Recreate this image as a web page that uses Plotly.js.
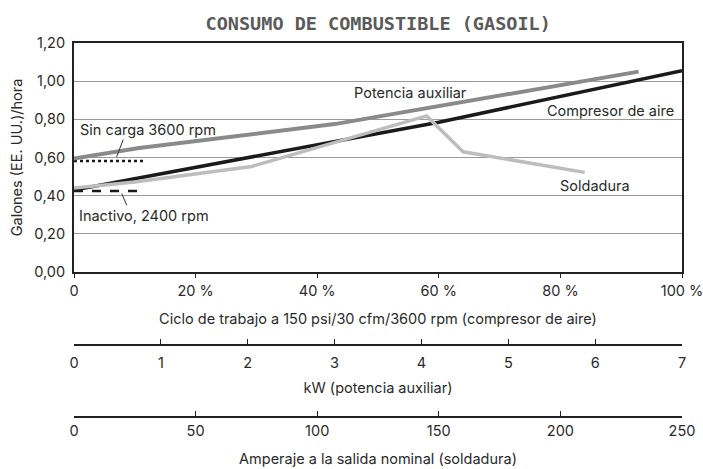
<!DOCTYPE html>
<html>
<head>
<meta charset="utf-8">
<script src="https://cdn.plot.ly/plotly-3.0.1.min.js"></script>
<style>html,body{margin:0;padding:0;background:#fff;}#chart{width:703px;height:469px;}</style>
</head>
<body>
<div id="chart"></div>
<script>
// Compresor de aire: ciclo de trabajo (%) vs galones/hora
const compresorX = [0, 60, 100];
const compresorY = [0.43, 0.785, 1.055];

// Potencia auxiliar: kW vs galones/hora
const potenciaX = [0, 0.75, 3, 6.5];
const potenciaY = [0.595, 0.65, 0.775, 1.05];

// Soldadura: amperaje vs galones/hora
const soldaduraX = [0, 25, 73, 145, 160, 210];
const soldaduraY = [0.44, 0.472, 0.553, 0.818, 0.63, 0.522];

// Reference levels (ciclo %)
const sinCargaX = [0, 11.5];
const sinCargaY = [0.582, 0.582];
const inactivoX = [0, 10.8];
const inactivoY = [0.424, 0.424];

const yTicks = [0, 0.2, 0.4, 0.6, 0.8, 1.0, 1.2];
const cicloTicks = [0, 20, 40, 60, 80, 100];
const cicloLabels = ['0', '20 %', '40 %', '60 %', '80 %', '100 %'];
const kwTicks = [0, 1, 2, 3, 4, 5, 6, 7];
const ampTicks = [0, 50, 100, 150, 200, 250];

const FONT = 'Inter, "Liberation Sans", sans-serif';
const TXT = '#2a2a2a';
const FS = 14.5;

const traces = [
  {x: sinCargaX, y: sinCargaY, xaxis: 'x', yaxis: 'y', mode: 'lines',
   line: {color: '#1a1a1a', width: 2.5, dash: 'dot'}, hoverinfo: 'skip'},
  {x: inactivoX, y: inactivoY, xaxis: 'x', yaxis: 'y', mode: 'lines',
   line: {color: '#1a1a1a', width: 2.5, dash: 'dash'}, hoverinfo: 'skip'},
  {x: compresorX, y: compresorY, xaxis: 'x', yaxis: 'y', mode: 'lines',
   line: {color: '#1a1a1a', width: 3.5}, name: 'Compresor de aire'},
  {x: potenciaX, y: potenciaY, xaxis: 'x2', yaxis: 'y', mode: 'lines',
   line: {color: '#8a8a8a', width: 4}, name: 'Potencia auxiliar'},
  {x: soldaduraX, y: soldaduraY, xaxis: 'x3', yaxis: 'y', mode: 'lines',
   line: {color: '#bdbdbd', width: 3.5}, name: 'Soldadura'}
];

const tf = {family: FONT, size: FS, color: TXT};

const layout = {
  width: 703, height: 469,
  margin: {l: 74, r: 21, t: 43, b: 52},
  paper_bgcolor: '#fff', plot_bgcolor: 'rgba(0,0,0,0)',
  showlegend: false,
  separators: ',.',
  font: {family: FONT, size: FS, color: TXT},
  title: {text: 'CONSUMO DE COMBUSTIBLE (GASOIL)', x: 0.538, xanchor: 'center', y: 0.95, yanchor: 'middle',
          font: {family: '"DejaVu Sans Mono", monospace', size: 18.5, color: '#5a5a5a', weight: 'bold'}},
  yaxis: {
    domain: [0.3877, 1], range: [0, 1.2], tickvals: yTicks, tickformat: '.2f', tickfont: tf,
    showgrid: true, gridcolor: '#9a9a9a', gridwidth: 1, zeroline: false,
    showline: true, mirror: true, linecolor: '#222', linewidth: 2,
    ticks: '', ticklabelstandoff: 4,
    title: {text: 'Galones (EE. UU.)/hora', standoff: 8, font: tf}
  },
  xaxis: {
    domain: [0, 1], range: [0, 100], anchor: 'y', tickvals: cicloTicks, ticktext: cicloLabels, tickfont: tf,
    ticklabeloverflow: 'allow',
    showgrid: false, zeroline: false, showline: true, mirror: true, linecolor: '#222', linewidth: 2,
    ticks: 'outside', ticklen: 4, tickcolor: '#222', tickwidth: 1, ticklabelstandoff: 1,
    title: {text: 'Ciclo de trabajo a 150 psi/30 cfm/3600 rpm (compresor de aire)', standoff: 15, font: tf}
  },
  xaxis2: {
    overlaying: 'x', anchor: 'free', position: 0.1917, range: [0, 7], tickvals: kwTicks, tickfont: tf,
    ticklabeloverflow: 'allow',
    showgrid: false, zeroline: false, showline: true, linecolor: '#222', linewidth: 2,
    ticks: 'inside', ticklen: 5, tickcolor: '#222', tickwidth: 1, ticklabelstandoff: 4,
    title: {text: 'kW (potencia auxiliar)', standoff: 12, font: tf}
  },
  xaxis3: {
    overlaying: 'x', anchor: 'free', position: 0, range: [0, 250], tickvals: ampTicks, tickfont: tf,
    ticklabeloverflow: 'allow',
    showgrid: false, zeroline: false, showline: true, linecolor: '#222', linewidth: 2,
    ticks: 'inside', ticklen: 5, tickcolor: '#222', tickwidth: 1, ticklabelstandoff: 1,
    title: {text: 'Amperaje a la salida nominal (soldadura)', standoff: 14, font: tf}
  },
  annotations: [
    {text: 'Potencia auxiliar', xref: 'x', yref: 'y', x: 55.4, y: 0.943, showarrow: false},
    {text: 'Compresor de aire', xref: 'x', yref: 'y', x: 88.3, y: 0.847, showarrow: false},
    {text: 'Soldadura', xref: 'x', yref: 'y', x: 85.7, y: 0.454, showarrow: false},
    {text: 'Sin carga 3600 rpm', xref: 'x', yref: 'y', x: 12.1, y: 0.743, showarrow: false},
    {text: 'Inactivo, 2400 rpm', xref: 'x', yref: 'y', x: 11.5, y: 0.297, showarrow: false}
  ],
  shapes: [
    {type: 'line', xref: 'x', yref: 'y', x0: 8.1, y0: 0.694, x1: 7.0, y1: 0.603, line: {color: '#333', width: 1}},
    {type: 'line', xref: 'x', yref: 'y', x0: 7.85, y0: 0.411, x1: 8.67, y1: 0.35, line: {color: '#333', width: 1}}
  ]
};

Plotly.newPlot('chart', traces, layout, {displayModeBar: false, staticPlot: true});
</script>
</body>
</html>
